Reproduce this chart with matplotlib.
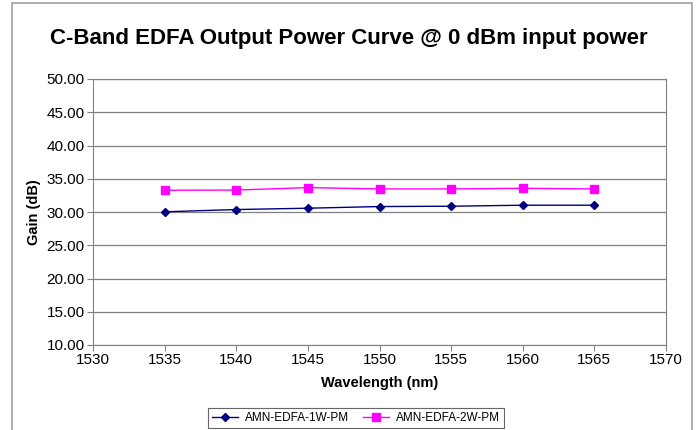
import matplotlib
matplotlib.use("Agg")
import matplotlib.pyplot as plt
from matplotlib.patches import Rectangle

plt.rcParams['font.family'] = ['Liberation Sans', 'DejaVu Sans']

wavelength = [1535, 1540, 1545, 1550, 1555, 1560, 1565]
gain_1w = [30.03, 30.37, 30.57, 30.82, 30.87, 31.02, 31.02]
gain_2w = [33.27, 33.30, 33.67, 33.47, 33.47, 33.57, 33.47]
labels = ["AMN-EDFA-1W-PM", "AMN-EDFA-2W-PM"]

fig = plt.figure(figsize=(6.98, 4.30), dpi=100)
# outer chart frame
fig.patches.append(Rectangle((12/698, -0.1), (692-12)/698, 1 - 3/430 + 0.1,
                             transform=fig.transFigure, fill=False,
                             edgecolor="#a0a0a0", linewidth=1.2))

ax = fig.add_axes([93/698, 1 - 345/430, (666-93)/698, (345-79)/430])

ax.plot(wavelength, gain_1w, color="#000080", marker="D", markersize=4,
        linewidth=1, label=labels[0])
ax.plot(wavelength, gain_2w, color="#ff00ff", marker="s", markersize=5.5,
        linewidth=1, label=labels[1])

ax.set_xlim(1530, 1570)
ax.set_ylim(10, 50)
ax.set_xticks(range(1530, 1571, 5))
ax.set_yticks(range(10, 51, 5))
ax.set_yticklabels(["%.2f" % v for v in range(10, 51, 5)])
ax.grid(axis="y", color="#808080", linewidth=0.9)
ax.set_axisbelow(True)
for s in ["top", "right", "left", "bottom"]:
    ax.spines[s].set_color("#808080")
ax.tick_params(labelsize=11, color="#808080", length=4, pad=2)

ax.set_xlabel("Wavelength (nm)", fontsize=10.5, fontweight="bold", labelpad=6)
ax.set_ylabel("Gain (dB)", fontsize=10.5, fontweight="bold", labelpad=4)

fig.suptitle("C-Band EDFA Output Power Curve @ 0 dBm input power",
             fontsize=16, fontweight="bold", x=0.5, y=1 - 28/430, va="top")

leg = fig.legend(loc="center", bbox_to_anchor=(356/698, 1 - 418/430), ncol=2,
                 fontsize=8.5, frameon=True, fancybox=False, edgecolor="#404040",
                 handlelength=2.2, handletextpad=0.6, columnspacing=1.2,
                 borderpad=0.3)
leg.get_frame().set_linewidth(0.8)

fig.savefig("out.png", dpi=100)
